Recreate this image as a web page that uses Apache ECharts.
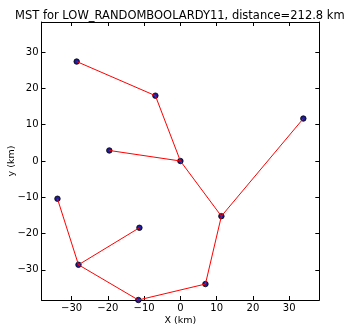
<!DOCTYPE html>
<html>
<head>
<meta charset="utf-8">
<script src="https://cdn.jsdelivr.net/npm/echarts@6/dist/echarts.min.js"></script>
<style>
  html, body { margin: 0; padding: 0; background: #fff; }
  #chart { width: 350px; height: 329px; }
</style>
</head>
<body>
<div id="chart"></div>
<script>
// Station positions (km)
const stationX = [-28.6, -6.9, 0.0, -19.6, 11.3, 33.9, 6.9, -11.6, -28.1, -33.9, -11.3];
const stationY = [27.4, 18.0, 0.0, 2.9, -15.2, 11.7, -33.9, -38.3, -28.6, -10.4, -18.4];
// Minimum spanning tree edges, as pairs of station indices
const edgeFrom = [0, 1, 3, 2, 4, 4, 6, 7, 8, 8];
const edgeTo   = [1, 2, 2, 4, 5, 6, 7, 8, 10, 9];
// Axis ticks
const xTicks = [-30, -20, -10, 0, 10, 20, 30];
const yTicks = [-30, -20, -10, 0, 10, 20, 30];
const axisMin = -38.3;
const axisMax = 38.3;

const font = 'DejaVu Sans';
const minus = v => String(v).replace('-', '\u2212');

function makeAxis(pos, ticks, showLabels, name, nameGap) {
  return {
    type: 'value',
    position: pos,
    min: axisMin,
    max: axisMax,
    name: name || '',
    nameLocation: 'middle',
    nameGap: nameGap || 0,
    nameMoveOverlap: false,
    nameTextStyle: { fontFamily: font, fontSize: 9.5, color: '#000' },
    axisLine: { show: true, onZero: false, lineStyle: { color: '#000', width: 1 } },
    axisTick: { show: true, inside: true, length: 4, customValues: ticks,
                lineStyle: { color: '#000', width: 1 } },
    axisLabel: { show: showLabels, customValues: ticks, margin: 3,
                 fontFamily: font, fontSize: 10, color: '#000', formatter: minus },
    splitLine: { show: false }
  };
}

const edgeSeries = edgeFrom.map((a, i) => {
  const b = edgeTo[i];
  return {
    type: 'line',
    xAxisIndex: 0, yAxisIndex: 0,
    data: [[stationX[a], stationY[a]], [stationX[b], stationY[b]]],
    showSymbol: false,
    symbol: 'none',
    lineStyle: { color: '#ff0000', width: 1 },
    z: 5,
    silent: true,
    animation: false
  };
});

const chart = echarts.init(document.getElementById('chart'), null, { renderer: 'canvas' });
chart.setOption({
  animation: false,
  backgroundColor: '#fff',
  title: {
    text: 'MST for LOW_RANDOMBOOLARDY11, distance=212.8 km',
    left: 10,
    top: 5,
    textStyle: { fontFamily: font, fontSize: 11.5, fontWeight: 'normal', color: '#000' }
  },
  grid: { left: 41.5, right: 30.7, top: 22, bottom: 29, containLabel: false, outerBoundsMode: 'none' },
  xAxis: [
    makeAxis('bottom', xTicks, true, 'X (km)', 16),
    makeAxis('top', xTicks, false)
  ],
  yAxis: [
    makeAxis('left', yTicks, true, 'y (km)', 25),
    makeAxis('right', yTicks, false)
  ],
  series: [
    {
      type: 'scatter',
      data: stationX.map((x, i) => [x, stationY[i]]),
      symbolSize: 5.5,
      itemStyle: { color: '#1c1c9c', borderColor: '#000', borderWidth: 0.8, opacity: 1 },
      z: 3,
      silent: true
    }
  ].concat(edgeSeries)
});
</script>
</body>
</html>
